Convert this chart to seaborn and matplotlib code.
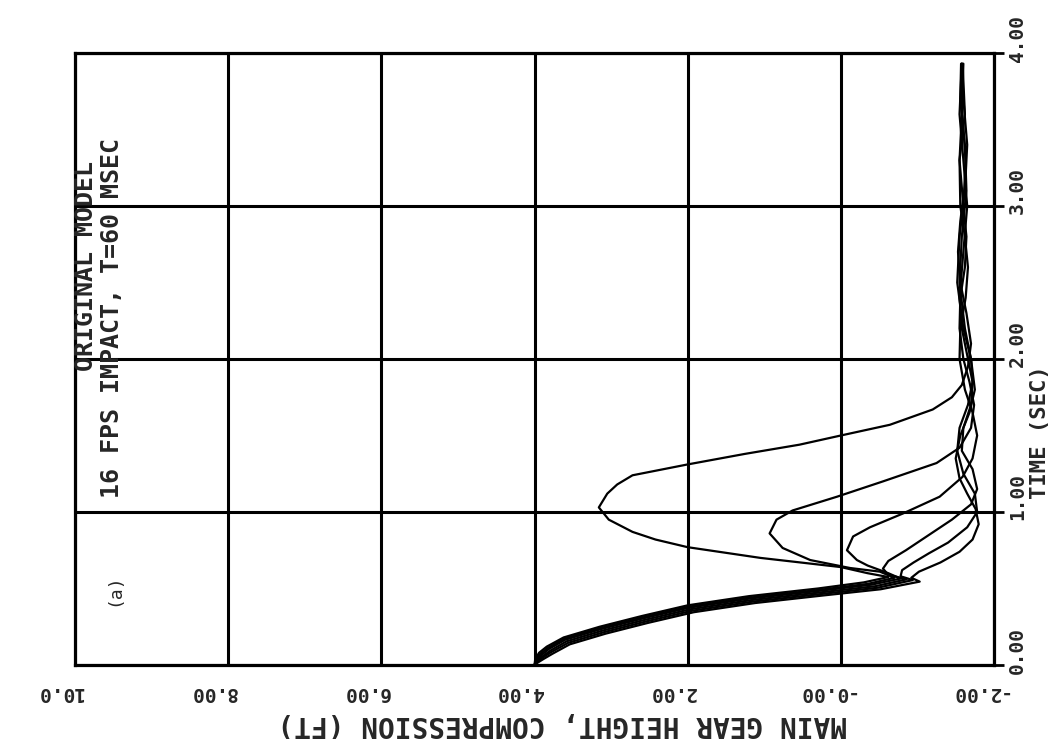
import matplotlib
matplotlib.use("Agg")
import matplotlib.pyplot as plt
import matplotlib.transforms as mtransforms
import numpy as np
import pandas as pd
import seaborn as sns

# Main gear height (ft) versus time (s) for six landing-gear runs.
time_a = [0.00, 0.04, 0.08, 0.12, 0.18, 0.25, 0.32, 0.39, 0.45, 0.50, 0.54, 0.575,
          0.60, 0.64, 0.70, 0.77, 0.82, 0.87, 0.95, 1.03, 1.12, 1.18, 1.24, 1.31,
          1.38, 1.44, 1.50, 1.57, 1.67, 1.75, 1.83, 1.95, 2.10, 2.30, 2.50, 2.70,
          2.90, 3.10, 3.30, 3.50, 3.70, 3.93]
height_a = [4.00, 3.99, 3.94, 3.84, 3.62, 3.15, 2.60, 2.00, 1.20, 0.30, -0.30, -0.62,
            -0.35, 0.00, 1.05, 2.00, 2.42, 2.72, 3.03, 3.16, 3.05, 2.92, 2.72, 2.01,
            1.25, 0.54, 0.00, -0.64, -1.20, -1.45, -1.58, -1.66, -1.70, -1.64, -1.56, -1.53,
            -1.56, -1.61, -1.63, -1.60, -1.57, -1.58]

time_b = [0.00, 0.035, 0.07, 0.11, 0.17, 0.24, 0.31, 0.38, 0.44, 0.49, 0.53, 0.57,
          0.61, 0.634, 0.686, 0.765, 0.86, 0.95, 1.01, 1.10, 1.20, 1.32, 1.42, 1.55,
          1.70, 1.85, 2.00, 2.20, 2.40, 2.60, 2.80, 3.00, 3.30, 3.60, 3.93]
height_b = [4.00, 3.98, 3.93, 3.83, 3.62, 3.15, 2.60, 2.00, 1.20, 0.30, -0.35, -0.70,
            -0.51, -0.12, 0.40, 0.76, 0.93, 0.84, 0.63, 0.05, -0.55, -1.25, -1.55, -1.70,
            -1.74, -1.68, -1.60, -1.55, -1.56, -1.62, -1.64, -1.60, -1.55, -1.58, -1.60]

time_c = [0.00, 0.03, 0.065, 0.105, 0.165, 0.235, 0.305, 0.375, 0.435, 0.485, 0.525, 0.565,
          0.60, 0.65, 0.686, 0.75, 0.84, 0.90, 0.99, 1.10, 1.23, 1.35, 1.50, 1.65,
          1.80, 2.00, 2.20, 2.40, 2.60, 2.80, 3.00, 3.30, 3.60, 3.93]
height_c = [4.00, 3.97, 3.91, 3.81, 3.60, 3.13, 2.58, 1.98, 1.18, 0.28, -0.40, -0.78,
            -0.62, -0.35, -0.21, -0.08, -0.16, -0.38, -0.81, -1.29, -1.59, -1.72, -1.78, -1.72,
            -1.62, -1.55, -1.56, -1.63, -1.66, -1.62, -1.56, -1.55, -1.62, -1.59]

time_d = [0.00, 0.025, 0.055, 0.095, 0.155, 0.225, 0.295, 0.365, 0.425, 0.475, 0.515, 0.56,
          0.59, 0.63, 0.68, 0.75, 0.85, 0.95, 1.05, 1.15, 1.28, 1.40, 1.55, 1.70,
          1.85, 2.00, 2.20, 2.40, 2.70, 3.00, 3.30, 3.60, 3.93]
height_d = [4.00, 3.97, 3.90, 3.79, 3.58, 3.11, 2.56, 1.96, 1.16, 0.26, -0.45, -0.86,
            -0.62, -0.55, -0.62, -0.85, -1.15, -1.45, -1.70, -1.78, -1.72, -1.58, -1.60, -1.70,
            -1.72, -1.66, -1.58, -1.55, -1.60, -1.65, -1.60, -1.55, -1.58]

time_e = [0.00, 0.02, 0.05, 0.085, 0.145, 0.215, 0.285, 0.355, 0.415, 0.465, 0.505, 0.555,
          0.58, 0.62, 0.67, 0.73, 0.80, 0.90, 1.00, 1.12, 1.25, 1.40, 1.55, 1.70,
          1.85, 2.00, 2.20, 2.50, 2.80, 3.10, 3.40, 3.70, 3.93]
height_e = [4.00, 3.96, 3.89, 3.78, 3.56, 3.09, 2.54, 1.94, 1.14, 0.24, -0.48, -0.94,
            -0.78, -0.80, -0.95, -1.15, -1.40, -1.65, -1.78, -1.75, -1.60, -1.52, -1.55, -1.66,
            -1.72, -1.70, -1.62, -1.55, -1.58, -1.64, -1.62, -1.56, -1.57]

time_f = [0.00, 0.015, 0.04, 0.075, 0.135, 0.205, 0.275, 0.345, 0.405, 0.455, 0.495, 0.545,
          0.57, 0.61, 0.67, 0.74, 0.82, 0.92, 1.02, 1.12, 1.22, 1.35, 1.50, 1.65,
          1.80, 2.00, 2.20, 2.50, 2.80, 3.10, 3.40, 3.70, 3.93]
height_f = [4.00, 3.96, 3.88, 3.76, 3.54, 3.07, 2.52, 1.92, 1.12, 0.22, -0.52, -1.03,
            -0.92, -1.02, -1.30, -1.55, -1.72, -1.80, -1.76, -1.65, -1.55, -1.50, -1.56, -1.68,
            -1.75, -1.70, -1.60, -1.52, -1.55, -1.62, -1.65, -1.60, -1.58]

height_ticks = [10.0, 8.0, 6.0, 4.0, 2.0, 0.0, -2.0]
height_tick_labels = ["10.0", "8.00", "6.00", "4.00", "2.00", "-0.00", "-2.00"]
time_ticks = [0.0, 1.0, 2.0, 3.0, 4.0]
time_tick_labels = ["0.00", "1.00", "2.00", "3.00", "4.00"]

title_lines = ["ORIGINAL MODEL", "16 FPS IMPACT, T=60 MSEC"]
height_label = "MAIN GEAR HEIGHT, COMPRESSION (FT)"
time_label = "TIME (SEC)"
panel_tag = "(a)"

runs = {"A": (time_a, height_a), "B": (time_b, height_b), "C": (time_c, height_c),
        "D": (time_d, height_d), "E": (time_e, height_e), "F": (time_f, height_f)}
frames = [pd.DataFrame({"run": name, "t": t, "h": h}) for name, (t, h) in runs.items()]
df = pd.concat(frames, ignore_index=True)

sns.set_theme(style="white")
plt.rcParams["font.family"] = ["DejaVu Sans Mono", "DejaVu Sans"]

W, H, DPI = 1060, 739, 100
fig = plt.figure(figsize=(W / DPI, H / DPI), dpi=DPI, facecolor="white")
ax = fig.add_axes([75 / W, 1 - 665 / H, (994 - 75) / W, (665 - 53) / H])
ax.set_facecolor("white")

sns.lineplot(data=df, x="h", y="t", units="run", estimator=None, sort=False,
             color="black", linewidth=1.6, ax=ax, legend=False, zorder=3)

ax.set_xlim(10.0, -2.0)
ax.set_ylim(0.0, 4.0)

for spine in ax.spines.values():
    spine.set_color("black")
    spine.set_linewidth(2.3)

ax.grid(True, color="black", linewidth=2.2)
ax.set_axisbelow(True)

ax.set_xticks(height_ticks)
ax.set_xticklabels(height_tick_labels, rotation=180, fontsize=14, fontweight="bold",
                   ha="center", va="top")
ax.yaxis.tick_right()
ax.set_yticks(time_ticks)
ax.set_yticklabels(time_tick_labels, rotation=90, fontsize=14, fontweight="bold",
                   ha="left", va="center")
ax.tick_params(axis="both", direction="out", length=7, width=2, color="black", pad=3)
ax.tick_params(axis="x", pad=6)

dx = mtransforms.ScaledTranslation(-15 / DPI, 0, fig.dpi_scale_trans)
for lab in ax.get_xticklabels():
    lab.set_transform(lab.get_transform() + dx)
dy = mtransforms.ScaledTranslation(0, 15 / DPI, fig.dpi_scale_trans)
for lab in ax.get_yticklabels():
    lab.set_transform(lab.get_transform() + dy)

ax.set_xlabel(height_label, rotation=180, fontsize=20, fontweight="bold", va="top")
ax.xaxis.set_label_coords((562 - 75) / 919, (665 - 710) / 612)
ax.yaxis.set_label_position("right")
ax.set_ylabel(time_label, rotation=90, fontsize=16, fontweight="bold",
              ha="center", va="center")
ax.yaxis.set_label_coords((1040 - 75) / 919, (665 - 432) / 612)

ax.text((86 - 75) / 919, (665 - 266) / 612, title_lines[0], transform=ax.transAxes,
        rotation=90, ha="center", va="center", fontsize=18, fontweight="bold")
ax.text((112 - 75) / 919, (665 - 318) / 612, title_lines[1], transform=ax.transAxes,
        rotation=90, ha="center", va="center", fontsize=18, fontweight="bold")
ax.text((114 - 75) / 919, (665 - 590) / 612, panel_tag, transform=ax.transAxes,
        rotation=90, ha="center", va="center", fontsize=13)

fig.savefig("out.png", dpi=DPI, facecolor="white")
